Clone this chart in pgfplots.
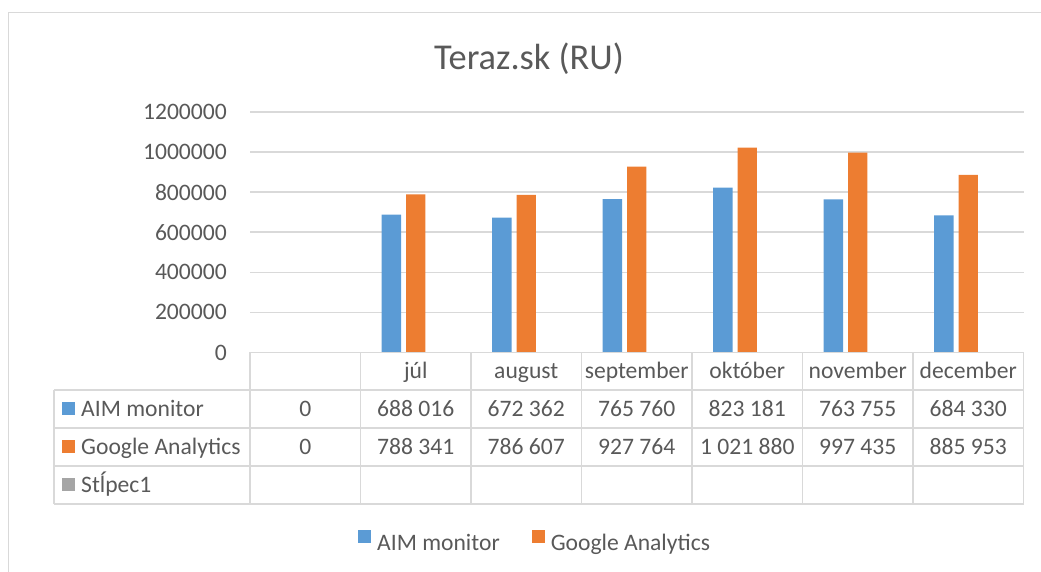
\documentclass[border=0pt]{standalone}
\usepackage{fontspec}
\setmainfont{Carlito}
\usepackage{pgfplots}
\usepackage{pgfplotstable}
\pgfplotsset{compat=1.18}
\definecolor{aim}{HTML}{5B9BD5}
\definecolor{ga}{HTML}{ED7D31}
\definecolor{stl}{HTML}{A5A5A5}
\definecolor{txt}{HTML}{595959}
\definecolor{gridc}{HTML}{D9D9D9}
\newcommand\lbl{\fontsize{23.6}{28}\selectfont}

% category index, AIM monitor, Google Analytics
\pgfplotstableread{
x aim ga
0 0 0
1 688016 788341
2 672362 786607
3 765760 927764
4 823181 1021880
5 763755 997435
6 684330 885953
}\teraz

\begin{document}
\begin{tikzpicture}[x=1pt,y=1pt]
\path[use as bounding box] (0,0) rectangle (1041,572);
\draw[gridc, line width=1pt] (8.5,0) -- (8.5,559) -- (1041,559);
\node[text=txt, font=\fontsize{36.4}{40}\selectfont, anchor=base] at (529,502) {Teraz.sk (RU)};

\begin{axis}[
  at={(250pt,219.5pt)}, anchor=south west,
  scale only axis, width=773.5pt, height=240.5pt,
  xmin=-0.5, xmax=6.5, ymin=0, ymax=1200000,
  xtick=\empty, ytick={0,200000,400000,600000,800000,1000000,1200000},
  axis line style={draw=none}, major tick length=0pt,
  ymajorgrids, grid style={gridc, line width=1.5pt},
  scaled y ticks=false,
  yticklabel style={font=\lbl, text=txt, inner sep=0pt, xshift=-23pt,
    /pgf/number format/.cd, fixed, precision=0, 1000 sep={}, assume math mode=true},
  legend style={at={(0.1396,-0.783)}, anchor=west, draw=none, fill=none,
    inner sep=0pt, font=\lbl, text=txt, legend columns=2,
    nodes={inner sep=0pt},
    /tikz/every odd column/.append style={column sep=6pt},
    /tikz/every even column/.append style={column sep=32pt}},
  legend image code/.code={\fill[#1] (0pt,0pt) rectangle (13pt,13pt);},
]
\addplot[ybar, bar width=19.3pt, bar shift=-24.4pt, fill=aim, draw=none] table[x=x, y=aim] {\teraz};
\addplot[ybar, bar width=19.3pt, bar shift=0pt, fill=ga, draw=none] table[x=x, y=ga] {\teraz};
\legend{AIM monitor, Google Analytics}
\end{axis}

% data table
\begin{scope}[gridc, line width=1.5pt]
  \draw (250,219.5) -- (1023.5,219.5);
  \foreach \y in {182,144,106,68} \draw (54,\y) -- (1023.5,\y);
  \draw (54,182) -- (54,68);
  \foreach \i in {0,...,7} \draw ({250+110.5*\i},219.5) -- ({250+110.5*\i},68);
\end{scope}
\begin{scope}[every node/.style={text=txt, font=\lbl, anchor=base, inner sep=0pt}]
  \foreach \n [count=\i] in {júl,august,september,október,november,december}
    \node at ({250+110.5*(\i+0.5)},193.1) {\n};
  \foreach \v [count=\i from 0] in {0,688 016,672 362,765 760,823 181,763 755,684 330}
    \node at ({250+110.5*(\i+0.5)},155.4) {\v};
  \foreach \v [count=\i from 0] in {0,788 341,786 607,927 764,1 021 880,997 435,885 953}
    \node at ({250+110.5*(\i+0.5)},117.4) {\v};
  \fill[aim] (62,156.5) rectangle (74.7,169.5);
  \fill[ga] (62,118.5) rectangle (74.7,131.5);
  \fill[stl] (62,80.5) rectangle (74.7,93.5);
  \node[anchor=base west] at (81,155.4) {AIM monitor};
  \node[anchor=base west] at (81,117.4) {Google Analytics};
  \node[anchor=base west] at (81,79.4) {Stĺpec1};
\end{scope}
\end{tikzpicture}
\end{document}
